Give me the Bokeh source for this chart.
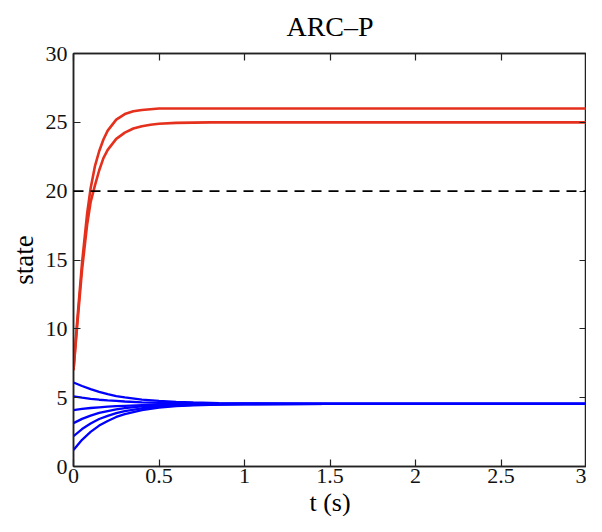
from bokeh.plotting import figure
from bokeh.models import Range1d, LinearAxis, FixedTicker, Span, CustomJSTickFormatter, Title
from bokeh.embed import file_html
from bokeh.resources import INLINE

# ---- data ----
title_text = "ARC\u2013P"
x_label = "t (s)"
y_label = "state"
x_ticks = [0, 0.5, 1, 1.5, 2, 2.5, 3]
y_ticks = [0, 5, 10, 15, 20, 25, 30]
threshold = 20

t_red = [0, 0.02, 0.05, 0.08, 0.1, 0.125, 0.15, 0.175, 0.2, 0.25, 0.3, 0.35, 0.4, 0.45, 0.5, 0.6, 0.7, 0.8, 1.0, 1.5, 2.0, 3.0]
red_upper = [7.0, 10.3, 14.8, 18.4, 20.2, 21.8, 22.9, 23.75, 24.4, 25.2, 25.6, 25.8, 25.9, 25.95, 26.0, 26.0, 26.0, 26.0, 26.0, 26.0, 26.0, 26.0]
red_lower = [7.0, 10.0, 14.3, 17.6, 19.2, 20.4, 21.5, 22.4, 23.0, 23.8, 24.25, 24.55, 24.72, 24.83, 24.9, 24.96, 24.98, 25.0, 25.0, 25.0, 25.0, 25.0]

t_blue = [0, 0.05, 0.1, 0.15, 0.2, 0.25, 0.3, 0.4, 0.5, 0.6, 0.7, 0.85, 1.0, 1.5, 3.0]
blue_1 = [6.1, 5.85, 5.62, 5.42, 5.25, 5.12, 5.02, 4.86, 4.76, 4.69, 4.65, 4.61, 4.58, 4.55, 4.55]
blue_2 = [5.1, 5.0, 4.92, 4.85, 4.8, 4.76, 4.72, 4.66, 4.62, 4.6, 4.58, 4.57, 4.56, 4.55, 4.55]
blue_3 = [4.1, 4.18, 4.25, 4.3, 4.35, 4.38, 4.41, 4.46, 4.49, 4.51, 4.52, 4.53, 4.54, 4.55, 4.55]
blue_4 = [3.15, 3.46, 3.7, 3.89, 4.03, 4.15, 4.24, 4.36, 4.44, 4.48, 4.51, 4.53, 4.54, 4.55, 4.55]
blue_5 = [2.2, 2.72, 3.12, 3.45, 3.68, 3.88, 4.03, 4.23, 4.36, 4.43, 4.48, 4.51, 4.53, 4.55, 4.55]
blue_6 = [1.2, 1.94, 2.51, 2.97, 3.31, 3.6, 3.81, 4.1, 4.28, 4.38, 4.45, 4.5, 4.53, 4.55, 4.55]

RED = "#e4301c"
BLUE = "#0000ff"
FONT = "Liberation Serif"
AXC = "#222222"

p = figure(width=586, height=516, output_backend="svg", toolbar_location=None,
           x_range=Range1d(0, 3), y_range=Range1d(0, 30),
           min_border_left=73, min_border_right=0, min_border_top=52, min_border_bottom=0,
           background_fill_color="white", border_fill_color="white")

p.title.text = title_text
p.title.align = "center"
p.title.vertical_align = "top"
p.title.text_font = FONT
p.title.text_font_size = "28px"
p.title.text_font_style = "normal"
p.title.text_color = "black"
p.title.standoff = 20

p.xgrid.visible = False
p.ygrid.visible = False
p.outline_line_color = AXC
p.outline_line_width = 1.5

fmt = CustomJSTickFormatter(code="return String(tick);")

for ax, ticks in ((p.xaxis[0], x_ticks), (p.yaxis[0], y_ticks)):
    ax.ticker = FixedTicker(ticks=ticks)
    ax.formatter = fmt
    ax.major_tick_in = 7
    ax.major_tick_out = 0
    ax.minor_tick_line_color = None
    ax.axis_line_color = AXC
    ax.axis_line_width = 1.5
    ax.major_tick_line_color = AXC
    ax.major_tick_line_width = 1.2
    ax.major_label_text_font = FONT
    ax.major_label_text_font_size = "22px"
    ax.major_label_text_color = "#111111"
    ax.axis_label_text_font = FONT
    ax.axis_label_text_font_size = "27px"
    ax.axis_label_text_font_style = "normal"
    ax.axis_label_text_color = "black"

p.yaxis[0].axis_label = y_label
p.xaxis[0].major_label_standoff = 2
p.yaxis[0].major_label_standoff = 6
p.yaxis[0].axis_label_standoff = 4

for loc, ticks in (("above", x_ticks), ("right", y_ticks)):
    ax = LinearAxis(ticker=FixedTicker(ticks=ticks))
    ax.major_tick_in = 7
    ax.major_tick_out = 0
    ax.minor_tick_line_color = None
    ax.axis_line_color = AXC
    ax.axis_line_width = 1.5
    ax.major_tick_line_color = AXC
    ax.major_tick_line_width = 1.2
    ax.major_label_text_font_size = "0px"
    ax.major_label_text_alpha = 0
    ax.major_label_standoff = 0
    p.add_layout(ax, loc)

# x-axis title as a compact title under the x axis
p.add_layout(Title(text=x_label, align="center", text_font=FONT, text_font_size="26px",
                   text_font_style="normal", text_color="black", standoff=0), "below")

p.add_layout(Span(location=threshold, dimension="width", line_color="black",
                  line_dash="10 7", line_width=1.6))

for ys in (blue_1, blue_2, blue_3, blue_4, blue_5, blue_6):
    p.line(t_blue, ys, line_color=BLUE, line_width=2.3)

for ys in (red_upper, red_lower):
    p.line(t_red, ys, line_color=RED, line_width=2.6)

open("out.html", "w").write(file_html(p, INLINE))
